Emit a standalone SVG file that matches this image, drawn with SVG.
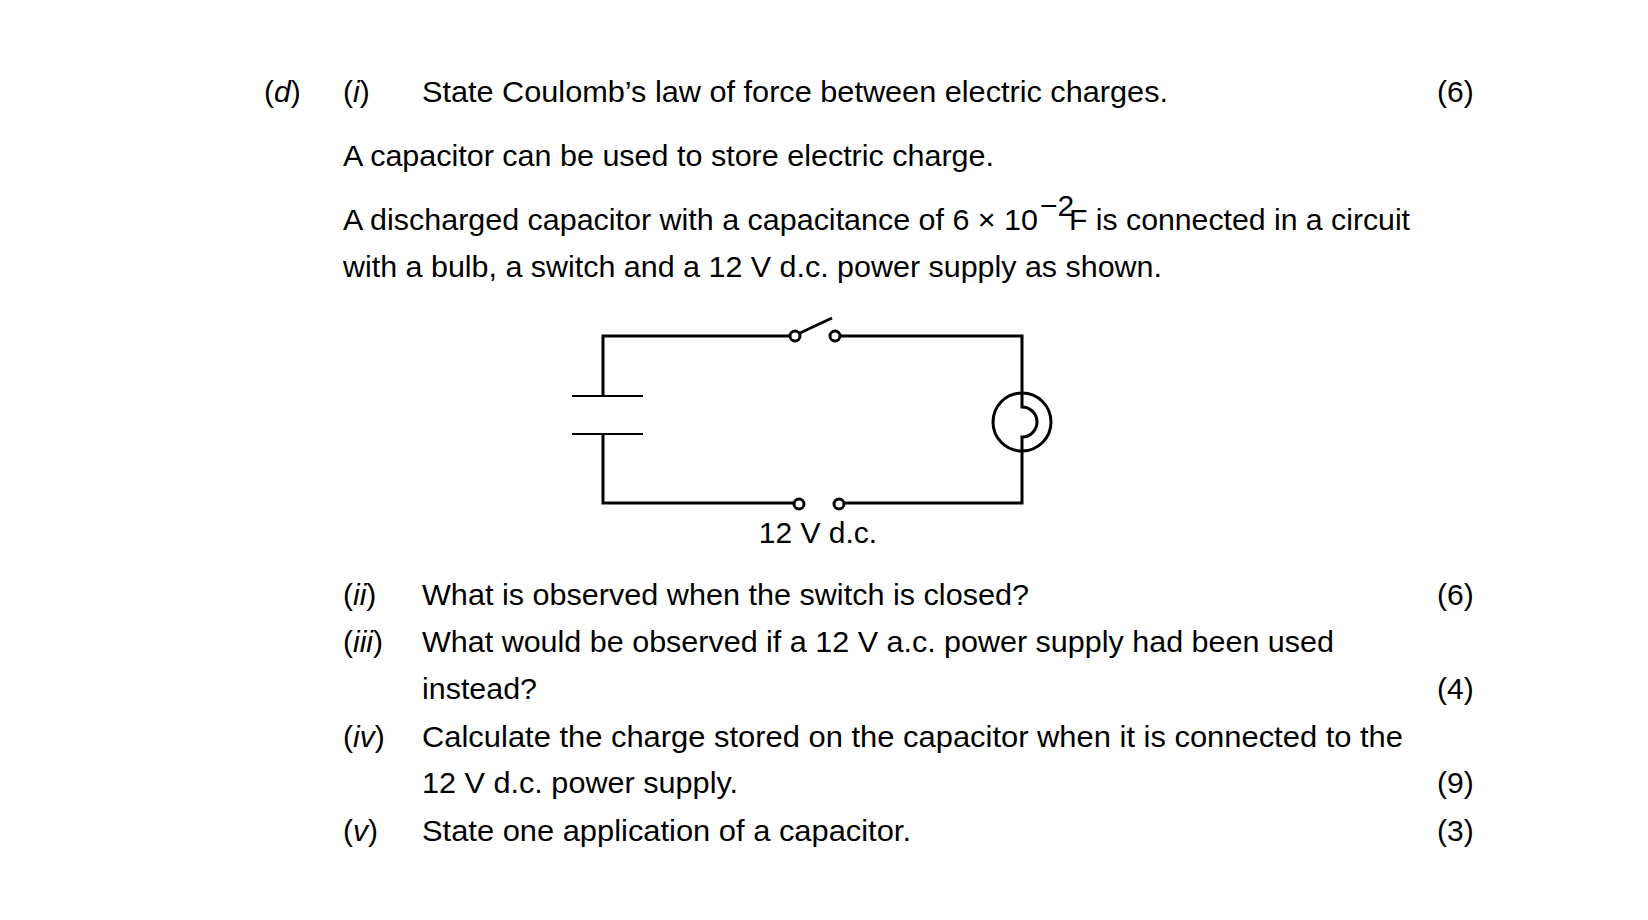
<svg xmlns="http://www.w3.org/2000/svg" width="1648" height="920" viewBox="0 0 1648 920">
<style>
text{font-family:"Liberation Sans",Arial,sans-serif;font-size:30px;fill:#000}
.i{font-style:italic}
.w{stroke:#000;stroke-width:3;fill:none}
.t{stroke:#000;stroke-width:2;fill:none}
</style>
<rect width="1648" height="920" fill="#fff"/>
<text x="264" y="102">(<tspan class="i">d</tspan>)</text>
<text x="343" y="102">(<tspan class="i">i</tspan>)</text>
<text x="422" y="102" textLength="746" lengthAdjust="spacingAndGlyphs">State Coulomb’s law of force between electric charges.</text>
<text x="1437" y="102">(6)</text>
<text x="343" y="166" textLength="651" lengthAdjust="spacingAndGlyphs">A capacitor can be used to store electric charge.</text>
<text x="343" y="230" textLength="695" lengthAdjust="spacingAndGlyphs">A discharged capacitor with a capacitance of 6 × 10</text>
<text x="1040" y="216" font-size="20">−2</text>
<text x="1069" y="230" textLength="341" lengthAdjust="spacingAndGlyphs">F is connected in a circuit</text>
<text x="343" y="277" textLength="819" lengthAdjust="spacingAndGlyphs">with a bulb, a switch and a 12 V d.c. power supply as shown.</text>
<g id="circuit">
<path class="w" d="M790 336H603V396M603 434V503H794M844 503H1022V451M1022 393V336H840"/>
<path class="t" d="M572 396H643M572 434H643"/>
<g id="switch"><circle class="w" cx="795" cy="336" r="5"/><circle class="w" cx="835" cy="336" r="5"/><path class="w" d="M800 333L832 318"/></g>
<g id="supply"><circle class="w" cx="799" cy="504" r="5"/><circle class="w" cx="839" cy="504" r="5"/></g>
<g id="bulb"><circle class="w" cx="1022" cy="422" r="29"/><path class="w" d="M1022 393V407A15 15 0 0 1 1022 437V451"/></g>
<text x="818" y="543" text-anchor="middle">12 V d.c.</text>
</g>
<text x="343" y="605">(<tspan class="i">ii</tspan>)</text>
<text x="422" y="605" textLength="607" lengthAdjust="spacingAndGlyphs">What is observed when the switch is closed?</text>
<text x="1437" y="605">(6)</text>
<text x="343" y="652">(<tspan class="i">iii</tspan>)</text>
<text x="422" y="652" textLength="912" lengthAdjust="spacingAndGlyphs">What would be observed if a 12 V a.c. power supply had been used</text>
<text x="422" y="699" textLength="115" lengthAdjust="spacingAndGlyphs">instead?</text>
<text x="1437" y="699">(4)</text>
<text x="343" y="747">(<tspan class="i">iv</tspan>)</text>
<text x="422" y="747" textLength="981" lengthAdjust="spacingAndGlyphs">Calculate the charge stored on the capacitor when it is connected to the</text>
<text x="422" y="793" textLength="316" lengthAdjust="spacingAndGlyphs">12 V d.c. power supply.</text>
<text x="1437" y="793">(9)</text>
<text x="343" y="841">(<tspan class="i">v</tspan>)</text>
<text x="422" y="841" textLength="489" lengthAdjust="spacingAndGlyphs">State one application of a capacitor.</text>
<text x="1437" y="841">(3)</text>
</svg>
